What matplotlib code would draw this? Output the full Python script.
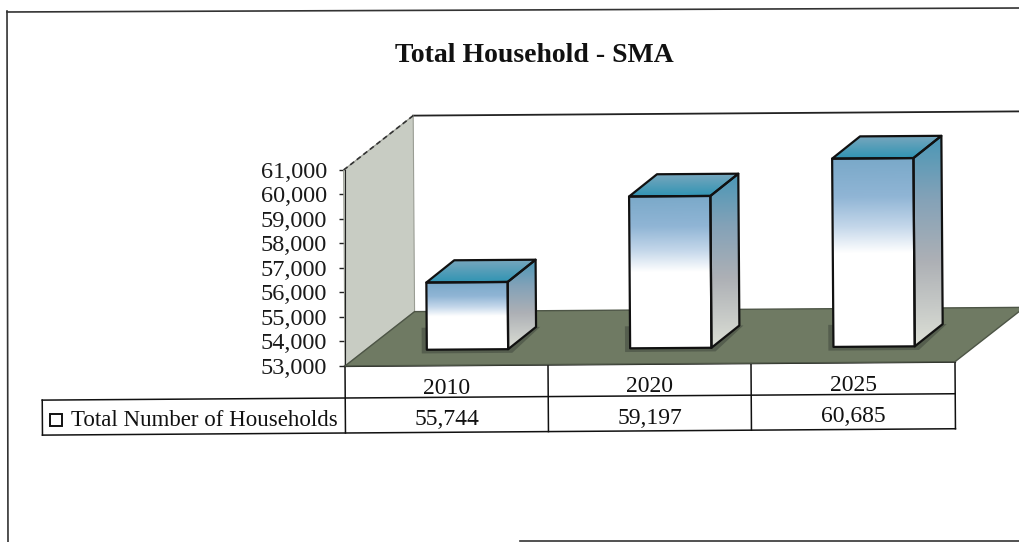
import matplotlib
matplotlib.use('Agg')
import matplotlib.pyplot as plt
import numpy as np
from matplotlib.colors import LinearSegmentedColormap
from matplotlib.patches import Polygon, Rectangle
from matplotlib.transforms import Affine2D

plt.rcParams['font.family'] = ['Liberation Serif', 'DejaVu Serif']

years = ['2010', '2020', '2025']
households = [55744, 59197, 60685]
household_labels = ['55,744', '59,197', '60,685']
y_ticks = [53000, 54000, 55000, 56000, 57000, 58000, 59000, 60000, 61000]
y_tick_labels = ['53,000', '54,000', '55,000', '56,000', '57,000', '58,000', '59,000', '60,000', '61,000']
series_name = 'Total Number of Households'
title = 'Total Household - SMA'

W, H = 1019, 542
fig = plt.figure(figsize=(W / 100, H / 100), dpi=100)

# the scan sits a bit crooked, everything gets turned around the axis corner
AX_LEFT, AX_BOTTOM = 345, 366
TILT = Affine2D().rotate_deg_around(AX_LEFT, H - AX_BOTTOM, 0.4)

# page layer in pixels, for the frame and the table
page = fig.add_axes([0, 0, 1, 1])
page.set_xlim(0, W)
page.set_ylim(H, 0)
page.axis('off')
page_t = page.transData + TILT

# chart layer: 203.3 px per category, 24.5 px per 1000 households
ax = fig.add_axes([AX_LEFT / W, (H - AX_BOTTOM) / H, (W - AX_LEFT) / W, 266 / H])
ax.patch.set_alpha(0)
t = ax.transData + TILT

x_low, x_high = -0.5, 2.5
y_low, y_high = y_ticks[0], y_ticks[-1]
depth_x, depth_y = 0.344, 2200
bar_depth_x, bar_depth_y = 0.138, 900
bar_shift_x, bar_shift_y = -0.097, 640
bar_width = 0.4

front_cm = LinearSegmentedColormap.from_list('front', [(0, '#7aa9c9'), (0.2, '#90b5d5'), (0.36, '#c4d7ea'), (0.5, '#ffffff'), (1, '#ffffff')])
side_cm = LinearSegmentedColormap.from_list('side', [(0, '#4a97b6'), (0.3, '#84a2b8'), (0.6, '#adb0b5'), (1, '#dcdfd6')])
top_cm = LinearSegmentedColormap.from_list('top', [(0, '#76a6bd'), (1, '#2f94b3')])


def shaded(points, cmap):
    # vertical gradient clipped to a polygon
    xs = [p[0] for p in points]
    ys = [p[1] for p in points]
    grad = np.linspace(0, 1, 128).reshape(-1, 1)
    im = ax.imshow(grad, cmap=cmap, aspect='auto', origin='upper', transform=t, zorder=4,
                   extent=[min(xs), max(xs), min(ys), max(ys)], interpolation='bilinear')
    im.set_clip_path(Polygon(points, closed=True, transform=t))
    ax.add_patch(Polygon(points, closed=True, fill=False, edgecolor='#111111', lw=1.6, transform=t,
                         clip_on=False, zorder=5, joinstyle='round'))


# back wall, left wall, floor
ax.plot([x_low + depth_x, 2.85], [y_high + depth_y] * 2, color='#222222', lw=1.3, transform=t, clip_on=False, zorder=1)
ax.add_patch(Polygon([(x_low, y_low), (x_low, y_high), (x_low + depth_x, y_high + depth_y), (x_low + depth_x, y_low + depth_y)],
                     closed=True, facecolor='#c8ccc3', edgecolor='#9a9d94', lw=0.8, transform=t, clip_on=False, zorder=2))
ax.plot([x_low, x_low + depth_x], [y_high, y_high + depth_y], color='#333333', lw=1.2, ls=(0, (3, 2)), transform=t, clip_on=False, zorder=3)
ax.add_patch(Polygon([(x_low, y_low), (x_high, y_low), (x_high + depth_x, y_low + depth_y), (x_low + depth_x, y_low + depth_y)],
                     closed=True, facecolor='#6f7a63', edgecolor='#4d5546', lw=1, transform=t, clip_on=False, zorder=3))

for i, v in enumerate(households):
    x0 = i + bar_shift_x
    x1 = x0 + bar_width
    y0 = y_low + bar_shift_y
    y1 = v + bar_shift_y
    # shadow on the floor round the foot of the bar
    ax.add_patch(Polygon([(x0 - 0.025, y0 - 150), (x1 + 0.02, y0 - 150), (x1 + bar_depth_x + 0.02, y0 + bar_depth_y),
                          (x0 - 0.025, y0 + bar_depth_y)], closed=True, facecolor='#555e4e', edgecolor='none',
                         transform=t, clip_on=False, zorder=3.5))
    shaded([(x1, y0), (x1 + bar_depth_x, y0 + bar_depth_y), (x1 + bar_depth_x, y1 + bar_depth_y), (x1, y1)], side_cm)
    shaded([(x0, y1), (x1, y1), (x1 + bar_depth_x, y1 + bar_depth_y), (x0 + bar_depth_x, y1 + bar_depth_y)], top_cm)
    shaded([(x0, y0), (x1, y0), (x1, y1), (x0, y1)], front_cm)

ax.set_xlim(x_low, 2.815)
ax.set_ylim(y_low, y_low + 266 / 24.5 * 1000)
ax.set_yticks(y_ticks)
ax.set_yticklabels(y_tick_labels, fontsize=17.5, color='#1a1a1a')
ax.set_xticks([])
ax.tick_params(axis='y', length=4, width=1, pad=9, color='#222222')
for side in ['top', 'right', 'bottom']:
    ax.spines[side].set_visible(False)
ax.spines['left'].set_bounds(y_low, y_high)
ax.spines['left'].set_color('#222222')

# outer frame of the chart
page.plot([7, 8], [11, 542], color='#333333', lw=1.2, transform=page.transData, clip_on=False)
page.plot([7, W], [12, 8], color='#333333', lw=1.2, transform=page.transData, clip_on=False)
page.plot([520, W], [541, 541], color='#333333', lw=1.2, transform=page.transData, clip_on=False)

page.text(534, 55, title, fontsize=20, fontweight='bold', ha='center', va='center', color='#111111')

# data table under the chart
col_edges = [345, 548, 751, 955]
row_top, row_mid, row_bottom = 366, 398, 433
lw_table = 1.1
page.plot([col_edges[0], col_edges[-1]], [row_top, row_top], color='#111111', lw=1.6, transform=page_t)
page.plot([42, col_edges[-1]], [row_mid, row_mid], color='#111111', lw=lw_table, transform=page_t)
page.plot([42, col_edges[-1]], [row_bottom, row_bottom], color='#111111', lw=lw_table, transform=page_t)
page.plot([42, 42], [row_mid, row_bottom], color='#111111', lw=lw_table, transform=page_t)
for c in col_edges:
    page.plot([c, c], [row_top, row_bottom], color='#111111', lw=lw_table, transform=page_t)
for i in range(3):
    xc = (col_edges[i] + col_edges[i + 1]) / 2
    page.text(xc, (row_top + row_mid) / 2 + 7, years[i], fontsize=17, ha='center', va='center', color='#111111', transform=page_t)
    page.text(xc, (row_mid + row_bottom) / 2 + 5, household_labels[i], fontsize=17, ha='center', va='center', color='#111111', transform=page_t)
page.add_patch(Rectangle((50, 414), 12, 12, facecolor='white', edgecolor='#111111', lw=1.4))
page.text(71, 420, series_name, fontsize=16.5, ha='left', va='center', color='#111111')

page.set_xlim(0, W)
page.set_ylim(H, 0)
fig.savefig('out.png', dpi=100)
